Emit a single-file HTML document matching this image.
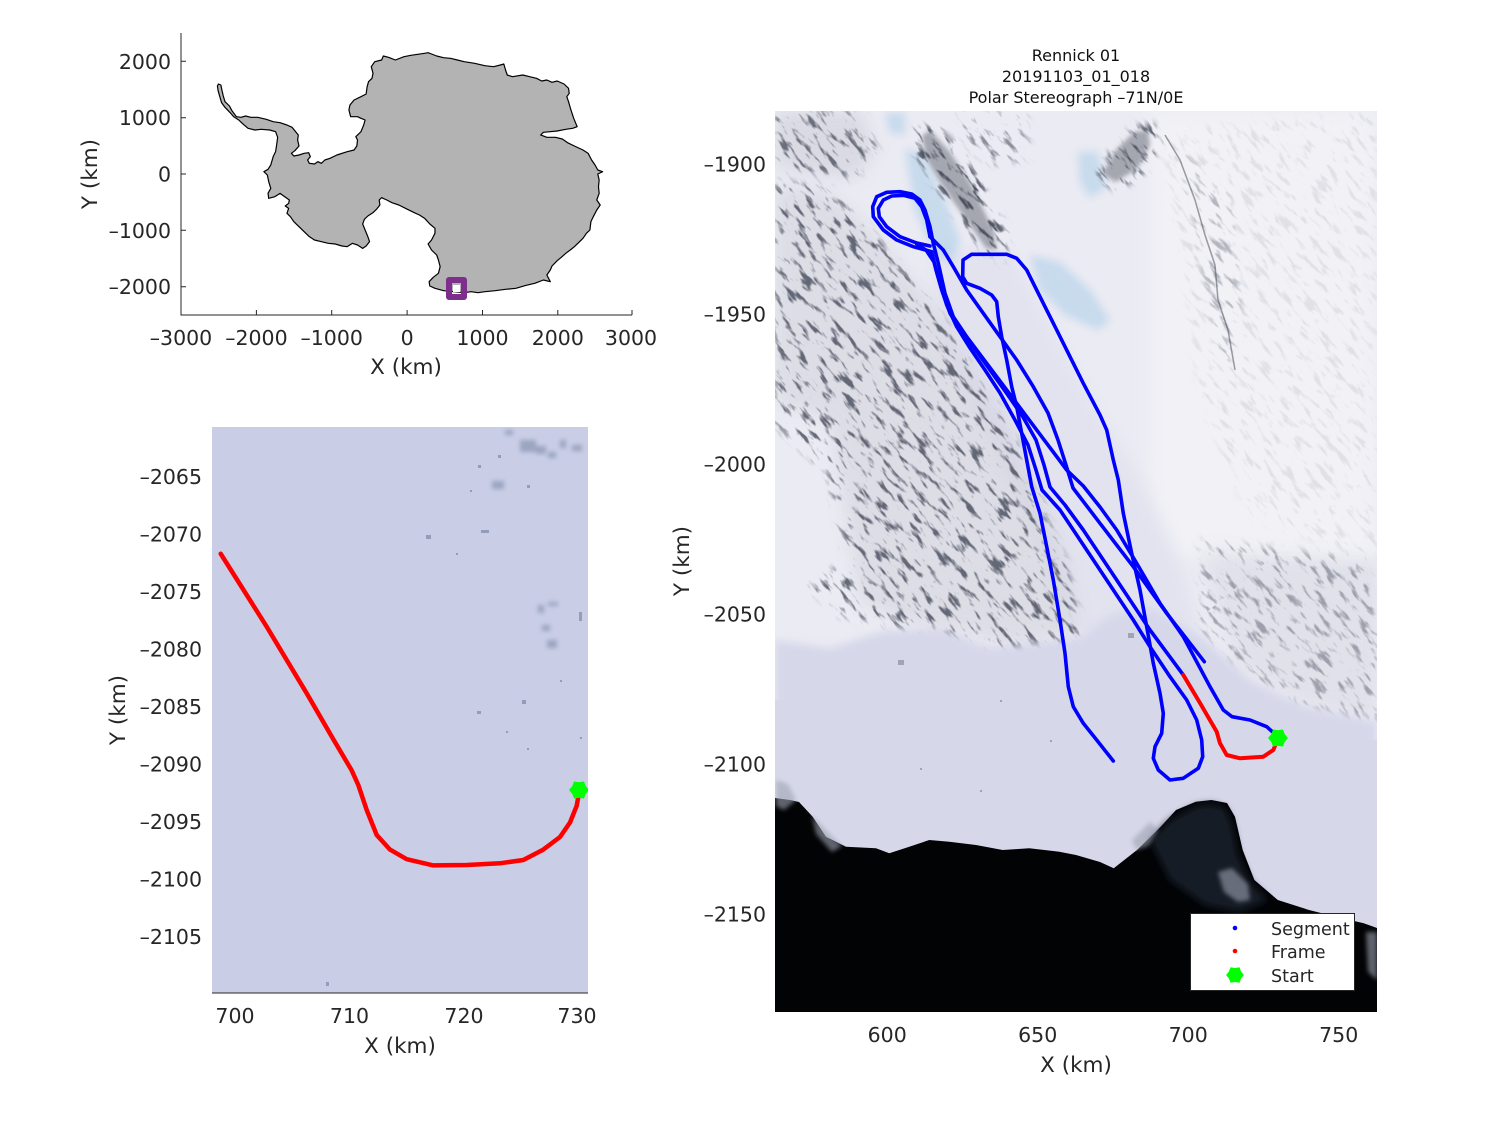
<!DOCTYPE html>
<html><head><meta charset="utf-8">
<style>
html,body{margin:0;padding:0;background:#fff;width:1500px;height:1125px;overflow:hidden}
svg{display:block}
text{font-family:"DejaVu Sans","Liberation Sans",sans-serif;fill:#262626}
</style></head>
<body>
<svg width="1500" height="1125" viewBox="0 0 1500 1125" xmlns="http://www.w3.org/2000/svg" overflow="hidden">
<defs>
  <filter id="b2" x="-20%" y="-20%" width="140%" height="140%"><feGaussianBlur stdDeviation="2"/></filter>
  <filter id="b4" x="-20%" y="-20%" width="140%" height="140%"><feGaussianBlur stdDeviation="4"/></filter>
  <filter id="b8" x="-30%" y="-30%" width="160%" height="160%"><feGaussianBlur stdDeviation="8"/></filter>
  <filter id="rock" color-interpolation-filters="sRGB" x="0" y="0" width="100%" height="100%">
    <feTurbulence type="fractalNoise" baseFrequency="0.05 0.17" numOctaves="3" seed="7"/>
    <feColorMatrix type="matrix" values="0 0 0 0 0.30  0 0 0 0 0.32  0 0 0 0 0.38  6 0 0 0 -3.3"/>
  </filter>
  <pattern id="texp" patternUnits="userSpaceOnUse" x="0" y="0" width="1200" height="1200" patternTransform="rotate(50 1076 560)">
    <rect x="0" y="0" width="1200" height="1200" filter="url(#rock)"/>
  </pattern>
  <mask id="mm" maskUnits="userSpaceOnUse" x="775" y="111" width="602" height="901">
    <g filter="url(#b4)">
      <polygon points="775,111 860,111 878,150 855,178 800,172 775,165" fill="#fff" fill-opacity="0.8"/>
      <polygon points="775,180 830,188 880,240 930,300 975,370 1010,430 1040,500 1065,560 1085,640 1010,655 960,640 900,628 840,615 800,580 775,550" fill="#fff" fill-opacity="0.85"/>
      <polygon points="775,420 830,470 850,560 800,600 775,590" fill="#000"/>
      <polygon points="912,130 935,124 960,150 985,185 1008,235 1004,262 985,255 960,220 935,185 915,155" fill="#fff"/>
      <polygon points="1095,178 1112,150 1135,126 1155,124 1160,145 1145,172 1118,190" fill="#fff"/>
      <polygon points="960,111 1025,111 1030,160 990,165 965,140" fill="#fff" fill-opacity="0.6"/>
      <polygon points="1160,130 1377,111 1377,560 1250,520 1200,400 1180,250" fill="#fff" fill-opacity="0.1"/>
      <polygon points="1200,540 1377,560 1377,725 1300,705 1240,670 1200,630" fill="#fff" fill-opacity="0.45"/>
      <polygon points="1180,150 1230,200 1240,300 1230,380 1210,320 1195,220" fill="#fff" fill-opacity="0.3"/>
    </g>
  </mask>
  <clipPath id="rc"><rect x="775" y="111" width="602" height="901"/></clipPath>
  <clipPath id="lc"><rect x="212" y="427" width="376" height="566"/></clipPath>
  <g id="star"><polygon points="9,0 6.06,3.5 4.5,7.79 0,7 -4.5,7.79 -6.06,3.5 -9,0 -6.06,-3.5 -4.5,-7.79 0,-7 4.5,-7.79 6.06,-3.5" fill="#00ff00" stroke="#00ff00" stroke-width="1.5" stroke-linejoin="round"/></g>
</defs>

<!-- ================= Top-left: Antarctica ================= -->
<g transform="translate(120,20) scale(0.34423,0.33333)">
<polygon fill="#b3b3b3" stroke="#000" stroke-width="1.2" vector-effect="non-scaling-stroke" stroke-linejoin="round" points="286,192 293,195 296,210 300,228 305,245 318,258 325,272 338,290 352,292 365,288 380,292 400,292 425,298 445,305 465,308 485,315 500,322 510,335 518,345 516,360 520,378 508,392 498,400 505,408 520,405 535,400 548,398 553,410 545,420 550,430 565,432 575,425 585,430 595,420 610,415 630,405 660,395 680,390 688,378 690,360 685,350 700,335 708,315 712,300 700,295 690,290 670,290 665,270 668,255 680,240 700,230 715,222 718,200 722,185 732,175 735,160 730,140 740,125 760,120 765,108 780,112 800,120 825,110 845,106 865,103 885,100 895,98 905,102 920,108 940,113 960,115 980,120 1000,125 1030,130 1060,137 1085,140 1105,135 1115,132 1120,150 1125,165 1140,170 1170,165 1190,170 1210,175 1225,183 1240,180 1255,187 1270,183 1290,192 1303,205 1305,220 1298,230 1303,245 1310,270 1318,295 1328,320 1315,325 1295,328 1270,333 1250,335 1230,337 1222,345 1240,352 1265,352 1285,357 1300,368 1320,378 1345,390 1360,400 1370,420 1380,435 1388,450 1402,455 1388,462 1392,480 1390,500 1392,520 1385,540 1395,555 1385,570 1375,590 1368,605 1365,630 1355,640 1345,655 1335,665 1320,680 1308,690 1295,700 1282,712 1270,722 1255,738 1250,750 1240,765 1245,775 1250,785 1230,780 1205,790 1180,796 1150,805 1120,808 1090,812 1060,815 1040,818 1020,815 1000,818 970,815 940,812 915,805 900,798 898,785 910,772 925,760 930,740 925,720 920,705 905,690 895,672 905,660 915,640 915,625 900,612 885,595 870,585 855,578 835,568 810,555 790,548 775,540 760,533 753,540 755,555 745,568 735,578 720,588 710,598 705,612 712,630 720,650 725,665 715,678 705,685 690,675 675,670 660,680 645,678 625,672 605,670 585,665 565,660 550,650 535,635 520,620 505,605 495,590 485,580 490,565 480,558 490,550 492,540 478,530 465,520 450,530 432,535 430,520 438,505 432,485 428,465 418,455 430,448 438,435 445,410 452,395 455,375 458,352 452,335 435,330 410,328 392,330 372,325 355,310 345,300 330,290 320,278 305,262 295,248 290,230 285,212 283,198"/>
</g>
<rect x="449" y="280" width="15" height="17" fill="none" stroke="#7e2f8e" stroke-width="6" stroke-linejoin="round"/>
<rect x="453" y="285" width="7" height="7" fill="#fff"/>
<!-- axes -->
<g stroke="#262626" stroke-width="1" fill="none">
  <path d="M181,33 V315 H632"/>
  <path d="M181,315v-5 M256.4,315v-5 M331.7,315v-5 M407.1,315v-5 M482.5,315v-5 M557.8,315v-5 M632,315v-5"/>
  <path d="M181,61.3h5 M181,117.7h5 M181,174h5 M181,230.3h5 M181,286.7h5"/>
</g>
<g font-size="20.5" text-anchor="middle">
  <text x="181" y="345">–3000</text><text x="256.4" y="345">–2000</text><text x="331.7" y="345">–1000</text><text x="407.1" y="345">0</text><text x="482.5" y="345">1000</text><text x="557.8" y="345">2000</text><text x="631" y="345">3000</text>
</g>
<g font-size="20.5" text-anchor="end">
  <text x="171" y="69">2000</text><text x="171" y="125">1000</text><text x="171" y="181.5">0</text><text x="171" y="238">–1000</text><text x="171" y="294">–2000</text>
</g>
<text x="406" y="374" font-size="21.5" text-anchor="middle">X (km)</text>
<text transform="translate(97,174) rotate(-90)" font-size="21.5" text-anchor="middle">Y (km)</text>

<!-- ================= Bottom-left: frame zoom ================= -->
<g clip-path="url(#lc)">
  <rect x="212" y="427" width="376" height="566" fill="#c9cde6"/>
  <g fill="#7d8aa8" opacity="0.6" filter="url(#b2)">
    <rect x="505" y="430" width="8" height="5"/><rect x="520" y="440" width="16" height="12"/><rect x="536" y="446" width="10" height="8"/><rect x="548" y="452" width="8" height="6"/>
    <rect x="560" y="440" width="6" height="8"/><rect x="572" y="445" width="10" height="6"/><rect x="492" y="481" width="12" height="8"/>
    <rect x="538" y="605" width="6" height="8"/><rect x="548" y="602" width="10" height="4"/><rect x="542" y="625" width="8" height="6"/><rect x="547" y="640" width="10" height="8"/>
  </g>
  <g fill="#7d8aa8" opacity="0.7">
    <rect x="498" y="455" width="3" height="3"/><rect x="478" y="465" width="3" height="3"/>
    <rect x="527" y="485" width="3" height="3"/><rect x="470" y="490" width="2" height="2"/>
    <rect x="426" y="535" width="5" height="4"/><rect x="481" y="530" width="8" height="3"/><rect x="456" y="553" width="2" height="2"/>
    <rect x="579" y="612" width="3" height="9"/>
    <rect x="477" y="711" width="4" height="3"/><rect x="522" y="700" width="4" height="4"/><rect x="506" y="731" width="2" height="2"/><rect x="527" y="748" width="2" height="2"/><rect x="560" y="680" width="2" height="2"/>
    <rect x="326" y="982" width="3" height="4"/><rect x="580" y="737" width="2" height="2"/>
  </g>
  <path d="M220.7,553.75 L266.7,626.7 306.7,693.3 333.3,739.2 351.7,770.4 358.3,785 366.7,810 376.7,835 390,849.6 406.7,859.2 433.3,865.4 466.7,865 500,863.3 523.3,860 543.3,849.6 560,837 570,822.5 576.7,805.8 579,793" fill="none" stroke="#ff0000" stroke-width="4.5" stroke-linejoin="round" stroke-linecap="round"/>
  <use href="#star" transform="translate(579,790)"/>
</g>
<line x1="212" y1="993" x2="588" y2="993" stroke="#262626" stroke-width="1"/>
<g font-size="20.5" text-anchor="end">
  <text x="202" y="484">–2065</text><text x="202" y="541.5">–2070</text><text x="202" y="599">–2075</text><text x="202" y="656.5">–2080</text><text x="202" y="714">–2085</text><text x="202" y="771.5">–2090</text><text x="202" y="829">–2095</text><text x="202" y="886.5">–2100</text><text x="202" y="944">–2105</text>
</g>
<g font-size="20.5" text-anchor="middle">
  <text x="235" y="1023">700</text><text x="349.5" y="1023">710</text><text x="464" y="1023">720</text><text x="577" y="1023">730</text>
</g>
<text x="400" y="1053" font-size="21.5" text-anchor="middle">X (km)</text>
<text transform="translate(125,710) rotate(-90)" font-size="21.5" text-anchor="middle">Y (km)</text>

<!-- ================= Right: segment map ================= -->
<g clip-path="url(#rc)">
  <rect x="775" y="111" width="602" height="901" fill="#ebebf3"/>
  <rect x="1150" y="111" width="227" height="450" fill="#f1f1f6" filter="url(#b8)"/>
  <!-- glacier band -->
  <polygon points="930,250 1010,250 1080,380 1140,480 1180,560 1200,630 1160,640 1080,640 1040,540 990,430 940,330" fill="#e2e3ef" filter="url(#b8)"/>
  <!-- underlying mountain shading -->
  <g filter="url(#b8)" fill="#a3a6b4">
    <polygon points="775,111 860,111 875,150 855,178 800,172 775,165" opacity="0.25"/>
    <polygon points="775,185 830,192 880,240 930,300 975,370 1010,430 1040,500 1065,560 1080,630 1010,645 960,630 900,620 860,600 830,420 775,400" opacity="0.2"/>
    <polygon points="1200,550 1377,560 1377,720 1300,700 1240,665" opacity="0.15"/>
  </g>
  <!-- blue ice -->
  <g fill="#85bde3" filter="url(#b4)" opacity="0.35">
    <polygon points="885,113 905,113 905,135 890,133"/>
    <polygon points="905,150 922,152 945,200 960,240 952,262 935,255 915,210"/>
    <polygon points="1030,255 1060,262 1090,290 1110,320 1098,330 1065,315 1040,290"/>
    <polygon points="1078,152 1098,152 1106,188 1090,198 1080,182"/>
  </g>
  <!-- rock texture -->
  <rect x="775" y="111" width="602" height="901" fill="url(#texp)" mask="url(#mm)"/>
  <!-- dark ridges -->
  <g filter="url(#b2)" fill="#4f5460" opacity="0.45">
    <polygon points="922,136 930,130 950,152 972,186 994,232 996,250 986,248 962,214 940,182 926,158"/>
    <polygon points="1102,174 1116,150 1134,132 1148,130 1150,145 1138,168 1116,182"/>
  </g>
  <path d="M1165,135 L1180,160 1195,200 1205,235 1215,265 1218,300 1228,330 1235,370" fill="none" stroke="#3d424e" stroke-width="1.5" opacity="0.5"/>
  <!-- flat ice shelf -->
  <polygon points="775,640 830,648 880,632 940,628 990,648 1040,642 1080,638 1110,615 1150,608 1200,635 1250,680 1300,705 1377,722 1377,1012 775,1012" fill="#d6d8ea" filter="url(#b4)"/>
  <polygon points="775,700 1377,740 1377,1012 775,1012" fill="#d6d8ea"/>
  <g fill="#6a7080" opacity="0.5">
    <rect x="1128" y="633" width="6" height="5"/><rect x="898" y="660" width="6" height="5"/><rect x="920" y="768" width="2" height="2"/><rect x="1000" y="700" width="2" height="2"/><rect x="1050" y="740" width="2" height="2"/><rect x="980" y="790" width="2" height="2"/>
  </g>
  <!-- ocean -->
  <polygon points="775,798 790,800 799,802 812.7,816.7 826,836.7 846,846.7 876,848.3 889.3,853.3 909.3,846.7 929.3,840 949.3,841.7 976,845 1002.7,850 1029.3,848.3 1059.3,851.7 1076,855 1100,862 1113.75,868.3 1137,850 1160.6,826.7 1176,810 1195.8,801.7 1211.4,800 1227,803 1235,816.7 1242.7,850 1254.4,880 1277.8,900 1309,910 1336,916.7 1363.75,923.3 1377,928 1377,1012 775,1012" fill="#020305"/>
  <polygon points="1150,840 1170,820 1196,806 1211,804 1225,808 1232,825 1238,855 1250,882 1268,900 1240,912 1205,905 1170,880" fill="#131a26" filter="url(#b4)"/>
  <g fill="#9ea3b2" opacity="0.6" filter="url(#b2)">
    <polygon points="1132,840 1150,822 1158,830 1148,846 1136,850"/>
    <polygon points="1218,872 1232,868 1248,884 1250,900 1238,902 1224,892"/>
    <polygon points="1366,932 1377,932 1377,980 1368,972"/>
    <polygon points="776,780 788,784 796,800 784,810 776,806"/>
    <polygon points="812,815 824,828 842,846 832,852 816,834"/>
  </g>
  <!-- tracks -->
  <g fill="none" stroke="#0000ff" stroke-width="3.6" stroke-linejoin="round" stroke-linecap="round">
    <path d="M931.7,251.7 L913.3,246.7 896.7,240 883.3,230 873.3,216.7 872.7,206.7 876.7,196.7 886.7,192.3 900,191.7 911.7,194 920,200 925,210 930,226.7 933.3,243.3"/>
    <path d="M930,246 L916.7,243 900,236.7 886.7,226.7 879.3,216.7 878.3,208.3 883.3,200 891.7,196 903.3,195.3 915,198.3 921.7,206.7 926.7,220 930,236.7"/>
    <path d="M933.3,243.3 L938.3,263.3 945,293.3 953.3,316.7 966.7,336.7 986.7,363.3 1006.7,390 1026.7,416.7 1046.7,443.3 1066.7,470 1083.3,486 1100,507 1116.7,530 1136.7,563.3 1160,603.3 1183.3,636.7 1210,686.7 1223.3,710 1232,716.7 1250,720 1266.7,726.7 1276,735"/>
    <path d="M930,236.7 L943.3,250 953.3,266.7 966.7,290 983.3,313.3 1000,336.7 1016.7,360 1033.3,386.7 1048,413 1058,440 1066,465 1073,488 1100,523.3 1133.3,566.7 1166.7,613.3 1204.3,661.7"/>
    <path d="M931.7,251.7 L936,270 941.7,290 950,313.3 960,330 973.3,346.7 990,370 1006.7,393.3 1023,417 1036,440 1044,465 1050,487 1065,505 1083.3,530 1116.7,580 1150,630 1183.3,675"/>
    <path d="M916.7,244 L926,250 934,262 939,280 946.7,305 956.7,326.7 970,348 985,370 1000,393 1015,420 1028,445 1036,470 1042,490 1060,510 1080,540 1110,585 1133.3,620 1150,646.7 1170,676.7 1186.7,700 1196.7,720 1201.7,740 1202.7,756.7 1198.3,768.3 1183.3,778.3 1170,780 1158.3,770 1153.3,758.3 1155,746.7 1161.7,733.3 1163.3,713.3 1160,693.3 1153.3,663.3 1146.7,626.7 1140,590 1131.7,553.3 1123.3,513.3 1118.3,480 1113.3,460 1106.7,430 1100,415 1083.3,383.3 1070,356.7 1056.7,330 1043.3,303.3 1033.3,283.3 1026.7,270 1016.7,258.3 1006.7,254.3 971.7,254.3 963,260 962.7,276.7 966.7,283.3 980,288.3 991.7,295 996.7,301.7 998.3,316.7 1001.7,336.7 1006.7,360 1011.7,386.7 1016.7,406.7 1021.7,433.3 1026.7,460 1031.7,486.7 1040,513.3 1046.7,546.7 1053.3,580 1060,620 1065,653.3 1068.3,686.7 1073.3,706.7 1083.3,723.3 1096.7,740 1113.3,761"/>
  </g>
  <path d="M1183.3,675 L1200,703 1216.7,731.7 1220,743.3 1226.7,755 1240,758.3 1263.3,756.7 1273.3,750 1278.3,738.3" fill="none" stroke="#ff0000" stroke-width="4" stroke-linejoin="round" stroke-linecap="round"/>
  <use href="#star" transform="translate(1278,738)"/>
  <!-- legend -->
  <rect x="1190.5" y="913.5" width="164" height="77" fill="#fff" stroke="#262626" stroke-width="1"/>
  <circle cx="1235" cy="928" r="2.3" fill="#0000ff"/>
  <circle cx="1235" cy="951" r="2.3" fill="#ff0000"/>
  <use href="#star" transform="translate(1235,975) scale(0.9)"/>
  <g font-size="17.5">
    <text x="1271" y="935">Segment</text>
    <text x="1271" y="958">Frame</text>
    <text x="1271" y="982">Start</text>
  </g>
</g>
<g font-size="16" text-anchor="middle">
  <text x="1076" y="61" style="fill:#111">Rennick 01</text>
  <text x="1076" y="82" style="fill:#111">20191103_01_018</text>
  <text x="1076" y="103" style="fill:#111">Polar Stereograph –71N/0E</text>
</g>
<g font-size="20.5" text-anchor="end">
  <text x="766" y="171.5">–1900</text><text x="766" y="321.5">–1950</text><text x="766" y="471.5">–2000</text><text x="766" y="621.5">–2050</text><text x="766" y="771.5">–2100</text><text x="766" y="921.5">–2150</text>
</g>
<g font-size="20.5" text-anchor="middle">
  <text x="887.2" y="1042">600</text><text x="1037.7" y="1042">650</text><text x="1188.2" y="1042">700</text><text x="1338.7" y="1042">750</text>
</g>
<text x="1076" y="1072" font-size="21.5" text-anchor="middle">X (km)</text>
<text transform="translate(689,561) rotate(-90)" font-size="21.5" text-anchor="middle">Y (km)</text>
</svg>
</body></html>
